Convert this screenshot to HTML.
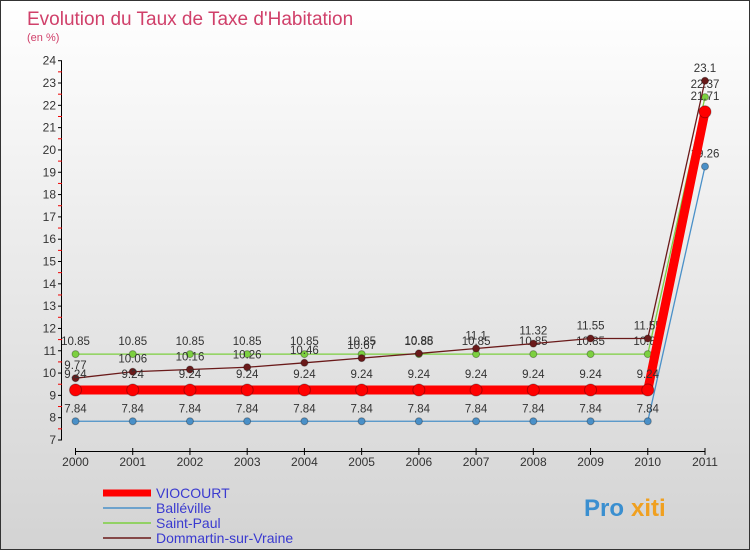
<!DOCTYPE html>
<html><head><meta charset="utf-8"><style>
body{margin:0;width:750px;height:550px;overflow:hidden;font-family:"Liberation Sans",sans-serif}
#c{position:absolute;left:0;top:0;width:748px;height:548px;border:1px solid #333;background:linear-gradient(#fff,#d3d3d3)}
</style></head><body>
<div id="c">
<svg id="s" width="748" height="548" xmlns="http://www.w3.org/2000/svg" style="position:absolute;left:0;top:0"></svg>
</div>
<script>
const years=["2000","2001","2002","2003","2004","2005","2006","2007","2008","2009","2010","2011"];
const viocourt=[9.24,9.24,9.24,9.24,9.24,9.24,9.24,9.24,9.24,9.24,9.24,21.71];
const balleville=[7.84,7.84,7.84,7.84,7.84,7.84,7.84,7.84,7.84,7.84,7.84,19.26];
const saintPaul=[10.85,10.85,10.85,10.85,10.85,10.85,10.85,10.85,10.85,10.85,10.85,22.37];
const dommartin=[9.77,10.06,10.16,10.26,10.46,10.67,10.88,11.1,11.32,11.55,11.55,23.1];
const yTicks=[7,8,9,10,11,12,13,14,15,16,17,18,19,20,21,22,23,24];
const NS="http://www.w3.org/2000/svg";
const s=document.getElementById('s');
function X(i){return 74.5+i*(704-74.5)/11;}
function Y(v){return 439-(v-7)*(439-59.7)/17;}
function el(t,a,p){const e=document.createElementNS(NS,t);for(const k in a)e.setAttribute(k,a[k]);(p||s).appendChild(e);return e;}
function tx(x,y,str,o){const e=el('text',Object.assign({x:x,y:y,'font-size':12,fill:'#333','font-family':'Liberation Sans, sans-serif'},o||{}));e.textContent=str;return e;}
const t1=tx(26,24,"Evolution du Taux de Taxe d'Habitation",{'font-size':19,fill:'#d0406a'});


const t2=tx(26,40,"(en %)",{'font-size':11,fill:'#d0406a'});


const ax=el('g',{});


el('line',{x1:60.5,x2:60.5,y1:Y(24),y2:Y(7),stroke:'#000'},ax);
yTicks.forEach(v=>{el('line',{x1:57,x2:61,y1:Y(v),y2:Y(v),stroke:'#000'},ax);
 if(v<24)el('line',{x1:57,x2:61,y1:Y(v+0.5),y2:Y(v+0.5),stroke:'#e00'},ax);
 tx(55,Y(v)+4,String(v),{'text-anchor':'end'},ax);});
const xa=el('g',{});


el('line',{x1:X(0),x2:X(11),y1:450.5,y2:450.5,stroke:'#000'},xa);
years.forEach((y,i)=>{el('line',{x1:X(i),x2:X(i),y1:447,y2:454,stroke:'#000'},xa);tx(X(i),465,y,{'text-anchor':'middle'},xa);});
function series(name,data,color,w,r,labOff){
 const g=el('g',{});
 
 
 el('polyline',{points:data.map((v,i)=>X(i)+','+Y(v)).join(' '),fill:'none',stroke:color,'stroke-width':w},g);
 data.forEach((v,i)=>{const c=el('circle',{cx:X(i),cy:Y(v),r:r,fill:color,stroke:'rgba(0,0,0,0.3)'},g);
  
  
  tx(X(i),Y(v)-labOff,String(v),{'text-anchor':'middle','font-size':11.5},g);});
}
series('balleville',balleville,'#4a90c8',1.3,3.5,9);
series('saint-paul',saintPaul,'#7cd040',1.3,3.5,9);
series('dommartin',dommartin,'#6a1a1a',1.3,3.5,9);
series('viocourt',viocourt,'#f00',9,6,12);
const leg=[["VIOCOURT","#f00",7],["Balléville","#4a90c8",1.5],["Saint-Paul","#7cd040",1.5],["Dommartin-sur-Vraine","#6a1a1a",1.5]];
leg.forEach((l,i)=>{const g=el('g',{});
 
 
 const y=492+i*15;
 el('line',{x1:102,x2:150,y1:y,y2:y,stroke:l[1],'stroke-width':l[2]},g);
 tx(155,y+5,l[0],{'font-size':14,fill:'#3a3ad0'},g);});
const p=tx(583,515,"Pro",{'font-size':24,'font-weight':'bold',fill:'#3a8fd0'});


const p2=tx(630,515,"xiti",{'font-size':24,'font-weight':'bold',fill:'#f0a020'});


</script>
</body></html>
